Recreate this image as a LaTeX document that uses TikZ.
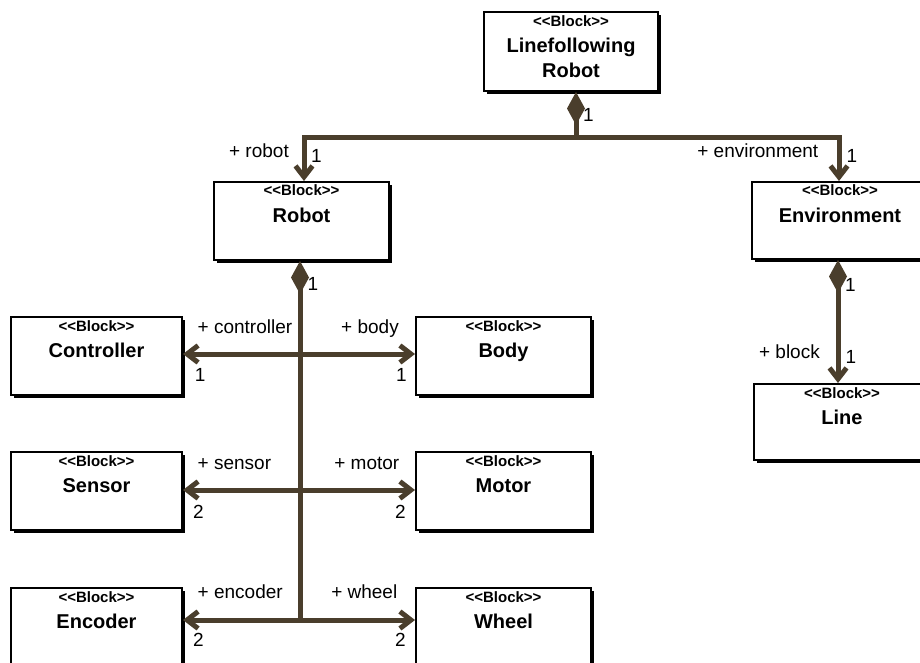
\documentclass[tikz,border=0pt]{standalone}
\usepackage{fontspec}
\setmainfont{Liberation Sans}
\usetikzlibrary{arrows.meta,shadows}

\definecolor{linkbrown}{RGB}{74,62,44}

\tikzset{
  x=1pt, y=-1pt,
  block/.style={draw=black, line width=2pt, fill=white, anchor=north west,
    inner sep=0pt,
    general shadow={fill=black, shadow xshift=3pt, shadow yshift=-3pt}},
  stereo/.style={anchor=base, inner sep=0pt, font=\bfseries\fontsize{15}{18}\selectfont},
  title/.style={anchor=base, inner sep=0pt, font=\bfseries\fontsize{20}{24}\selectfont},
  lbl/.style={inner sep=0pt, font=\fontsize{19}{22}\selectfont},
  conn/.style={draw=linkbrown, line width=5pt},
  barb/.tip={Straight Barb[length=11pt, width=17pt]},
  comp/.tip={Diamond[length=33pt, width=18pt, line width=0pt]},
}

% #1 name, #2 x, #3 y, #4 outer width, #5 outer height, #6 title
\newcommand\umlblock[6]{%
  \node[block, minimum width=#4pt-2pt, minimum height=#5pt-2pt] (#1) at (#2,#3) {};
  \node[stereo] (#1-st) at ([yshift=-15pt]#1.north) {<\kern0pt<Block>\kern0pt>};
  \node[title] (#1-t) at ([yshift=-41.5pt]#1.north) {#6};
}

\begin{document}
\begin{tikzpicture}
\useasboundingbox (0,0) rectangle (920,663);
\clip (0,0) rectangle (920,663);
\fill[white] (0,0) rectangle (920,663);

% top-level block with its two-line title
\node[block, minimum width=174pt, minimum height=79pt] (lf) at (483,11) {};
\node[stereo] (lf-st) at ([yshift=-15.5pt]lf.north) {<\kern0pt<Block>\kern0pt>};
\node[title] (lf-t1) at ([yshift=-42pt]lf.north) {Linefollowing};
\node[title] (lf-t2) at ([yshift=-67pt]lf.north) {Robot};

\umlblock{robot}{213}{181}{177}{80}{Robot}
\umlblock{env}{751}{181}{178}{79}{Environment}
\umlblock{line}{753}{383}{178}{78}{Line}
\umlblock{controller}{10}{316}{173}{80}{Controller}
\umlblock{body}{415}{316}{177}{80}{Body}
\umlblock{sensor}{10}{451}{173}{80}{Sensor}
\umlblock{motor}{415}{451}{177}{80}{Motor}
\umlblock{encoder}{10}{587}{173}{80}{Encoder}
\umlblock{wheel}{415}{587}{177}{80}{Wheel}

% composition of the line-following robot
\coordinate (lfj) at (576,138);
\draw[conn, {comp}-] (lf.south -| lfj) -- (lfj);
\draw[conn, -{barb}] (lfj) -| ([xshift=2.5pt]robot.north);
\draw[conn, -{barb}] (lfj) -| ([xshift=-1pt]env.north);

% composition of the robot
\coordinate (rtop) at ([xshift=-1.5pt]robot.south);
\coordinate (b1) at (300,354);
\coordinate (b2) at (300,490);
\coordinate (b3) at (300,620);
\draw[conn, {comp}-] (rtop) -- (rtop |- b3);
\draw[conn, {barb}-{barb}] (b1 -| controller.east) -- (b1 -| body.west);
\draw[conn, {barb}-{barb}] (b2 -| sensor.east) -- (b2 -| motor.west);
\draw[conn, {barb}-{barb}] (b3 -| encoder.east) -- (b3 -| wheel.west);

% composition of the environment
\coordinate (etop) at ([xshift=-2pt]env.south);
\draw[conn, {comp}-{barb}] (etop) -- (etop |- line.north);

% role names and multiplicities
\node[lbl, anchor=base west] (m-lf) at (583,121.7) {1};
\node[lbl, anchor=base east] (r-robot) at (289,158) {+ robot};
\node[lbl, anchor=base west] (m-robot) at (311,163) {1};
\node[lbl, anchor=base east] (r-env) at (818.5,158) {+ environment};
\node[lbl, anchor=base west] (m-env) at (846.5,163) {1};
\node[lbl, anchor=base west] (m-rcomp) at (307.5,290) {1};
\node[lbl, anchor=base west] (m-ecomp) at (845,291.5) {1};
\node[lbl, anchor=base east] (r-block) at (820,358) {+ block};
\node[lbl, anchor=base west] (m-block) at (845.5,363) {1};

\node[lbl, anchor=base west] (r-ctrl) at (197.5,333) {+ controller};
\node[lbl, anchor=base east] (r-body) at (399,333) {+ body};
\node[lbl, anchor=base west] (m-ctrl) at (194.7,381.7) {1};
\node[lbl, anchor=base east] (m-body) at (406.8,381.7) {1};

\node[lbl, anchor=base west] (r-sensor) at (197.5,469.5) {+ sensor};
\node[lbl, anchor=base east] (r-motor) at (399.5,469.5) {+ motor};
\node[lbl, anchor=base west] (m-sensor) at (193,518.5) {2};
\node[lbl, anchor=base east] (m-motor) at (406,518.5) {2};

\node[lbl, anchor=base west] (r-enc) at (197.5,598) {+ encoder};
\node[lbl, anchor=base east] (r-wheel) at (397.5,598) {+ wheel};
\node[lbl, anchor=base west] (m-enc) at (193,646.7) {2};
\node[lbl, anchor=base east] (m-wheel) at (406,646.7) {2};
\end{tikzpicture}
\end{document}
